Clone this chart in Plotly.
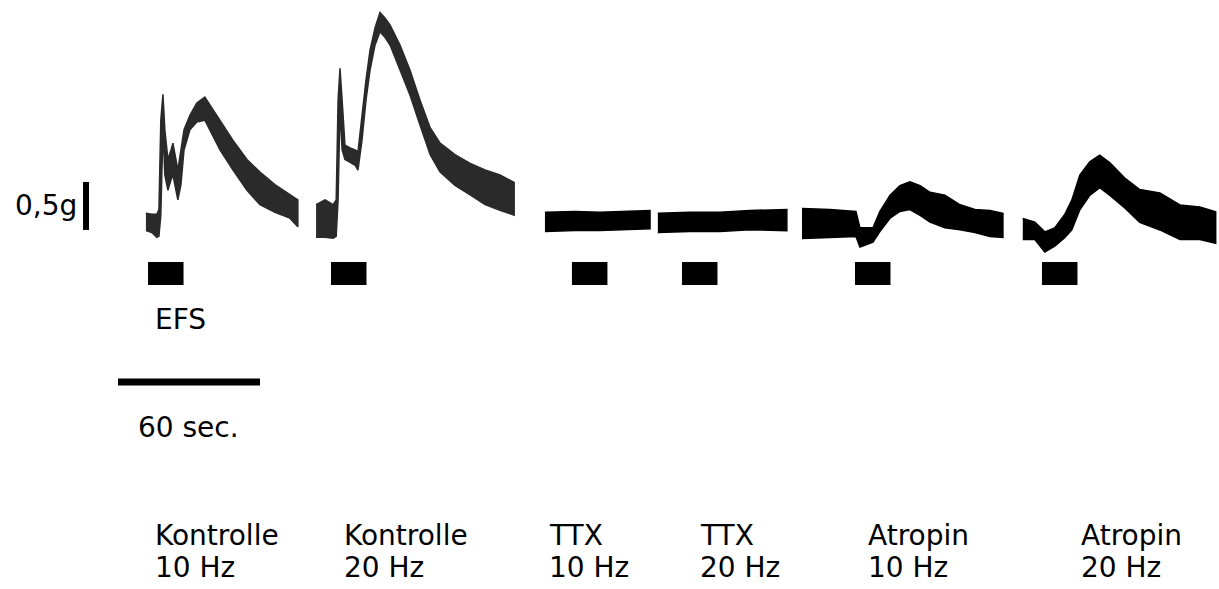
import plotly.graph_objects as go

# ---- Data (time in s relative to trace start, force in g relative to resting tone) ----
# Kontrolle 10 Hz
k10_t = [0, 2.5, 4.6, 5.5, 6.3, 7.2, 8.0, 9.3, 10.6, 11.4, 12.7, 13.5, 14.8, 16.1, 18.6, 21.5, 24.9, 27.9, 31.3, 36.8, 42.7, 48.2, 54.5, 60.8, 64.2]
k10_hi = [0.09, 0.08, 0.08, 0.13, 1.06, 1.33, 0.96, 0.65, 0.75, 0.82, 0.65, 0.54, 0.75, 0.96, 1.11, 1.24, 1.30, 1.19, 1.06, 0.85, 0.65, 0.52, 0.39, 0.28, 0.23]
k10_lo = [-0.09, -0.11, -0.16, -0.15, 0.07, 0.96, 0.49, 0.33, 0.44, 0.49, 0.33, 0.23, 0.39, 0.75, 0.96, 1.04, 1.06, 0.91, 0.75, 0.54, 0.33, 0.18, 0.10, 0.04, -0.05]
# Kontrolle 20 Hz
k20_t = [0, 3.8, 7.2, 8.5, 9.3, 10.1, 11.0, 12.2, 14.4, 16.5, 17.7, 19.4, 21.1, 22.8, 24.9, 27.0, 29.2, 31.3, 35.5, 39.7, 43.9, 48.2, 52.4, 58.7, 65.1, 71.4, 77.7, 83.7]
k20_hi = [0.16, 0.21, 0.16, 0.21, 1.25, 1.58, 1.25, 0.78, 0.75, 0.73, 0.71, 1.09, 1.46, 1.77, 2.00, 2.16, 2.10, 2.03, 1.82, 1.56, 1.25, 0.96, 0.80, 0.68, 0.59, 0.52, 0.47, 0.39]
k20_lo = [-0.18, -0.18, -0.19, -0.17, 0.21, 1.15, 0.73, 0.63, 0.60, 0.57, 0.52, 0.83, 1.25, 1.56, 1.82, 1.96, 1.90, 1.82, 1.56, 1.30, 0.99, 0.68, 0.50, 0.36, 0.26, 0.16, 0.10, 0.05]
# TTX 10 Hz
t10_t = [0, 12.7, 23.2, 33.8, 44.4]
t10_hi = [0.10, 0.11, 0.10, 0.11, 0.12]
t10_lo = [-0.10, -0.09, -0.09, -0.08, -0.07]
# TTX 20 Hz
t20_t = [0, 13.5, 26.2, 38.9, 54.5]
t20_hi = [0.09, 0.10, 0.10, 0.12, 0.13]
t20_lo = [-0.11, -0.10, -0.10, -0.08, -0.09]
# Atropin 10 Hz
a10_t = [0, 11.8, 22.8, 24.5, 30.0, 32.9, 37.2, 41.4, 45.6, 49.9, 54.1, 60.4, 66.8, 73.1, 79.4, 84.9]
a10_hi = [0.16, 0.15, 0.13, -0.04, -0.04, 0.13, 0.30, 0.40, 0.44, 0.40, 0.33, 0.30, 0.20, 0.15, 0.14, 0.11]
a10_lo = [-0.15, -0.14, -0.13, -0.24, -0.19, -0.08, 0.06, 0.13, 0.15, 0.09, 0.02, -0.04, -0.06, -0.09, -0.13, -0.14]
# Atropin 20 Hz
a20_t = [0, 5.1, 9.3, 13.5, 17.7, 20.7, 24.1, 28.3, 32.5, 36.8, 43.1, 49.4, 57.9, 66.4, 74.8, 81.5]
a20_hi = [0.11, 0.07, -0.03, 0.01, 0.15, 0.30, 0.56, 0.70, 0.77, 0.69, 0.53, 0.41, 0.375, 0.25, 0.23, 0.18]
a20_lo = [-0.11, -0.11, -0.24, -0.18, -0.09, -0.01, 0.20, 0.35, 0.43, 0.35, 0.22, 0.07, -0.01, -0.11, -0.11, -0.15]

condition_lines = ["Kontrolle", "Kontrolle", "TTX", "TTX", "Atropin", "Atropin"]
frequency_lines = ["10 Hz", "20 Hz", "10 Hz", "20 Hz", "10 Hz", "20 Hz"]

# layout of the panels on the shared chart (s, g)
trace_start = [11.8, 83.7, 180.4, 228.1, 289.0, 382.3]
trace_base = [3.823, 3.844, 3.823, 3.823, 3.802, 3.75]
efs_start = [12.7, 90.0, 191.8, 238.3, 311.4, 390.4]
efs_duration = 15.0
label_x = [14.8, 94.6, 181.2, 245.0, 316.0, 406.0]

traces = [(k10_t, k10_hi, k10_lo), (k20_t, k20_hi, k20_lo), (t10_t, t10_hi, t10_lo),
          (t20_t, t20_hi, t20_lo), (a10_t, a10_hi, a10_lo), (a20_t, a20_hi, a20_lo)]
trace_colors = ["#2a2a2a", "#2a2a2a", "#000000", "#000000", "#000000", "#000000"]

FONT = "DejaVu Sans"
FS = 28
fig = go.Figure()

for (t, hi, lo), t0, b0, col in zip(traces, trace_start, trace_base, trace_colors):
    xs = [t0 + v for v in t] + [t0 + v for v in reversed(t)]
    ys = [b0 + v for v in hi] + [b0 + v for v in reversed(lo)]
    fig.add_trace(go.Scatter(x=xs, y=ys, fill="toself", fillcolor=col, mode="lines",
                             line=dict(color=col, width=1.5), hoverinfo="skip", showlegend=False))

# EFS stimulation bars
for s in efs_start:
    fig.add_shape(type="rect", x0=s, x1=s + efs_duration, y0=3.167, y1=3.406,
                  fillcolor="black", line=dict(width=0))

# scale bars
fig.add_shape(type="line", x0=0, x1=60, y0=2.156, y1=2.156, line=dict(color="black", width=7))
fig.add_shape(type="line", x0=-13.5, x1=-13.5, y0=3.74, y1=4.24, line=dict(color="black", width=6))

fig.add_annotation(x=-16.5, y=3.99, text="0,5g", showarrow=False, xanchor="right", yanchor="middle",
                   font=dict(family=FONT, size=FS, color="black"))
fig.add_annotation(x=14.8, y=2.81, text="EFS", showarrow=False, xanchor="left", yanchor="middle",
                   font=dict(family=FONT, size=FS, color="black"))
fig.add_annotation(x=7.6, y=1.68, text="60 sec.", showarrow=False, xanchor="left", yanchor="middle",
                   font=dict(family=FONT, size=FS, color="black"))

for x, c, f in zip(label_x, condition_lines, frequency_lines):
    fig.add_annotation(x=x, y=0.56, text=c, showarrow=False, xanchor="left", yanchor="middle",
                       font=dict(family=FONT, size=FS, color="black"))
    fig.add_annotation(x=x, y=0.22, text=f, showarrow=False, xanchor="left", yanchor="middle",
                       font=dict(family=FONT, size=FS, color="black"))

fig.update_layout(width=1219, height=589, margin=dict(l=0, r=0, t=0, b=0),
                  paper_bgcolor="white", plot_bgcolor="white", showlegend=False)
fig.update_xaxes(range=[-49.85, 465.2], visible=False)
fig.update_yaxes(range=[0, 6.135], visible=False)
fig.write_html("out.html", config={"displayModeBar": False},
               post_script="document.body.style.margin='0px';document.body.style.overflow='hidden';")
